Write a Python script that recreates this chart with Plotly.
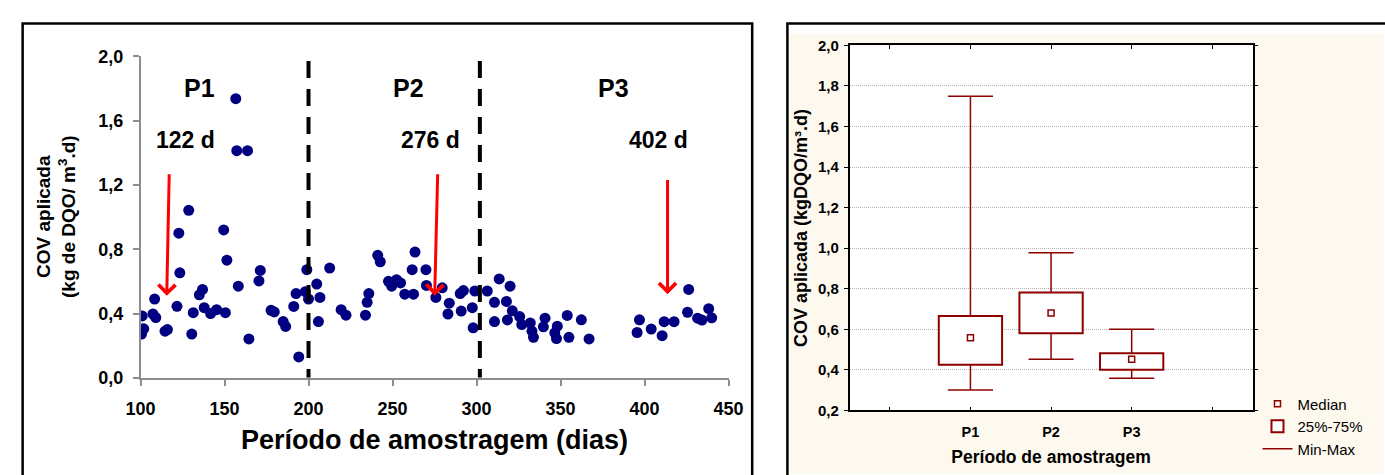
import plotly.graph_objects as go

# ---------------- Left panel data (COV aplicada vs dias) ----------------
days = [101.0, 101.9, 100.6, 108.4, 107.4, 109.1, 114.6, 116.0, 121.7, 123.4,
        122.8, 128.7, 130.5, 131.4, 135.0, 136.9, 137.9, 141.7, 145.3, 149.5,
        150.5, 151.4, 156.7, 157.3, 158.2, 163.7, 164.5, 170.5, 171.3, 177.7,
        179.6, 184.9, 186.4, 191.2, 192.6, 194.2, 198.1, 199.0, 200.0,
        204.9, 205.9, 206.8, 212.6, 219.4, 222.3, 233.9, 234.9, 235.9, 241.2,
        242.7, 247.6, 249.5, 252.4, 254.8, 257.3, 261.7, 262.5, 263.4, 269.9,
        270.2, 275.8, 279.6, 283.0, 283.8, 290.3, 290.9, 292.2, 297.5, 298.0,
        299.0,
        306.4, 310.7, 310.7, 313.5, 317.8, 318.4, 320.0, 321.3, 325.7, 326.9,
        332.0, 333.0, 333.9, 339.8, 340.8, 346.6, 347.6, 348.1, 354.0, 355.0,
        362.4, 367.0, 395.6, 397.0, 404.0, 410.5, 411.7, 417.6, 425.6, 426.3,
        431.6, 434.2, 438.2, 440.0]
cov = [0.385, 0.305, 0.272, 0.49, 0.397, 0.375, 0.29, 0.30, 0.445, 0.653,
       0.90, 1.042, 0.272, 0.405, 0.516, 0.55, 0.436, 0.40, 0.424, 0.92,
       0.405, 0.732, 1.736, 1.413, 0.57, 1.413, 0.242, 0.603, 0.668, 0.42,
       0.41, 0.35, 0.32, 0.444, 0.524, 0.13, 0.536, 0.673, 0.49,
       0.583, 0.35, 0.50, 0.683, 0.424, 0.39, 0.39, 0.47, 0.524, 0.762,
       0.722, 0.60, 0.57, 0.61, 0.59, 0.52, 0.673, 0.52, 0.782, 0.673,
       0.575, 0.50, 0.56, 0.397, 0.464, 0.524, 0.415, 0.543, 0.436, 0.311,
       0.54,
       0.54, 0.47, 0.35, 0.615, 0.475, 0.36, 0.57, 0.417, 0.381, 0.331,
       0.341, 0.29, 0.252, 0.317, 0.371, 0.28, 0.244, 0.321, 0.388, 0.252,
       0.361, 0.242, 0.282, 0.361, 0.303, 0.262, 0.349, 0.349, 0.408, 0.55,
       0.371, 0.359, 0.43, 0.373]

x_ticks_left = [100, 150, 200, 250, 300, 350, 400, 450]
y_ticks_left = [0.0, 0.4, 0.8, 1.2, 1.6, 2.0]

period_bounds = [200, 302]
period_line_top = 1.97
period_names = ["P1", "P2", "P3"]
period_label_x = [134.9, 259.4, 381.7]
period_label_y = 1.80

arrow_labels = ["122 d", "276 d", "402 d"]
arrow_label_x = [126.6, 272.8, 408.5]
arrow_label_y = 1.48
arrow_tail_x = [117.1, 276.9, 413.7]
arrow_tail_y = [1.275, 1.275, 1.24]
arrow_tip_x = [115.6, 275.1, 413.7]
arrow_tip_y = [0.51, 0.51, 0.52]

# ---------------- Right panel data (box plot) ----------------
box_labels = ["P1", "P2", "P3"]
box_pos = [2, 3, 4]
cat_minor_ticks = [1, 2, 3, 4, 5]
cov_min = [0.30, 0.452, 0.359]
cov_q1 = [0.425, 0.58, 0.40]
cov_median = [0.558, 0.68, 0.452]
cov_q3 = [0.666, 0.782, 0.482]
cov_max = [1.75, 0.978, 0.60]

# ---------------- styling ----------------
W, H = 1385, 475
FONT = "Liberation Sans, Arial, sans-serif"
NAVY = "#000080"
MAROON = "#8E0000"
GREY_AX = "#8C8C8C"
CREAM = "#FEF9EE"
BOX_WIDTH = 0.785
CAP_HALF = 0.28


def px_x(p):
    return p / W


def px_y(p):
    return 1 - p / H


fig = go.Figure()

fig.add_trace(go.Scatter(
    x=days, y=cov, mode="markers", showlegend=False,
    marker=dict(color=NAVY, size=11, line=dict(width=0)),
    xaxis="x", yaxis="y", name="COV"))

fig.add_trace(go.Bar(
    x=box_pos, y=[q3 - q1 for q1, q3 in zip(cov_q1, cov_q3)], base=cov_q1,
    width=BOX_WIDTH, name="25%-75%", legendrank=2,
    marker=dict(color="white", line=dict(color=MAROON, width=2)),
    xaxis="x2", yaxis="y2"))

wx, wy = [], []
for p, lo, q1, q3, hi in zip(box_pos, cov_min, cov_q1, cov_q3, cov_max):
    wx += [p, p, None, p, p, None, p - CAP_HALF, p + CAP_HALF, None, p - CAP_HALF, p + CAP_HALF, None]
    wy += [lo, q1, None, q3, hi, None, lo, lo, None, hi, hi, None]
fig.add_trace(go.Scatter(
    x=wx, y=wy, mode="lines", name="Min-Max", legendrank=3,
    line=dict(color=MAROON, width=1.5),
    xaxis="x2", yaxis="y2"))

fig.add_trace(go.Scatter(
    x=box_pos, y=cov_median, mode="markers", name="Median", legendrank=1,
    marker=dict(symbol="square-open", size=6, color=MAROON, line=dict(width=1.5)),
    xaxis="x2", yaxis="y2"))

shapes = []
shapes.append(dict(type="rect", xref="paper", yref="paper",
                   x0=px_x(791), x1=1.01, y0=-0.02, y1=px_y(25),
                   fillcolor=CREAM, line=dict(width=0), layer="below"))
shapes.append(dict(type="rect", xref="x2", yref="y2",
                   x0=0.5, x1=5.5, y0=0.2, y1=2.0,
                   fillcolor="white", line=dict(width=0), layer="below"))
shapes.append(dict(type="rect", xref="paper", yref="paper",
                   x0=px_x(7.8), x1=px_x(753.5), y0=-0.05, y1=px_y(14),
                   line=dict(color="black", width=2.5), fillcolor="rgba(0,0,0,0)"))
shapes.append(dict(type="rect", xref="paper", yref="paper",
                   x0=px_x(789.5), x1=1.05, y0=-0.05, y1=px_y(14),
                   line=dict(color="black", width=2.5), fillcolor="rgba(0,0,0,0)"))
for b in period_bounds:
    shapes.append(dict(type="line", xref="x", yref="y", x0=b, x1=b,
                       y0=period_line_top, y1=0,
                       line=dict(color="black", width=4, dash="17px,11px"),
                       layer="above"))

annotations = []
for name, xv in zip(period_names, period_label_x):
    annotations.append(dict(x=xv, y=period_label_y, xref="x", yref="y", text=name,
                            showarrow=False,
                            font=dict(family=FONT, size=25, color="black", weight="bold")))
for lab, xv in zip(arrow_labels, arrow_label_x):
    annotations.append(dict(x=xv, y=arrow_label_y, xref="x", yref="y", text=lab,
                            showarrow=False,
                            font=dict(family=FONT, size=23, color="black", weight="bold")))
for tx, ty, hx, hy in zip(arrow_tail_x, arrow_tail_y, arrow_tip_x, arrow_tip_y):
    annotations.append(dict(x=hx, y=hy, ax=tx, ay=ty, xref="x", yref="y",
                            axref="x", ayref="y", text="", showarrow=True,
                            arrowhead=4, arrowsize=1.1, arrowwidth=3,
                            arrowcolor="#FF0000"))
annotations.append(dict(x=px_x(42), y=px_y(216), xref="paper", yref="paper",
                        xanchor="center", yanchor="middle",
                        text="COV aplicada<br>(kg de DQO/ m<sup>3</sup>.d)",
                        textangle=-90, showarrow=False,
                        font=dict(family=FONT, size=19, color="black", weight="bold")))

fig.update_layout(
    width=W, height=H,
    margin=dict(l=0, r=0, t=0, b=0),
    paper_bgcolor="white", plot_bgcolor="white",
    separators=",.",
    font=dict(family=FONT, color="black"),
    shapes=shapes, annotations=annotations,
    showlegend=True,
    legend=dict(x=px_x(1270), y=px_y(394), xanchor="left", yanchor="top",
                bgcolor="rgba(0,0,0,0)", borderwidth=0,
                font=dict(family=FONT, size=15, color="black"),
                tracegroupgap=0, itemwidth=30),
    xaxis=dict(domain=[px_x(128.3), px_x(729.3)], range=[100, 450],
               tickvals=x_ticks_left, ticks="outside", ticklen=6,
               tickcolor=GREY_AX, tickwidth=1.5, ticklabelstandoff=8,
               showline=True, linecolor=GREY_AX, linewidth=1.5,
               showgrid=False, zeroline=False, anchor="y",
               tickfont=dict(family=FONT, size=18, color="black", weight="bold"),
               title=dict(text="Período de amostragem (dias)", standoff=12,
                          font=dict(family=FONT, size=27, color="black", weight="bold"))),
    yaxis=dict(domain=[1 - 384 / H, 1 - 48.3 / H], range=[0, 2.0],
               tickvals=y_ticks_left, tickformat=".1f", ticks="outside", ticklen=6,
               tickcolor=GREY_AX, tickwidth=1.5, ticklabelstandoff=6,
               showline=True, linecolor=GREY_AX, linewidth=1.5,
               showgrid=False, zeroline=False, anchor="x",
               tickfont=dict(family=FONT, size=18, color="black", weight="bold")),
    xaxis2=dict(domain=[px_x(853), px_x(1265)], range=[0.5, 5.5],
                tickvals=box_pos, ticktext=box_labels,
                ticks="inside", ticklen=4, tickcolor="black",
                minor=dict(tickvals=cat_minor_ticks, ticks="inside", ticklen=4,
                           tickcolor="black", showgrid=False),
                showline=True, linecolor="black", linewidth=1.5, mirror="ticks",
                showgrid=False, zeroline=False, anchor="y2", ticklabelstandoff=7,
                tickfont=dict(family=FONT, size=14.5, color="black", weight="bold"),
                title=dict(text="Período de amostragem", standoff=12,
                           font=dict(family=FONT, size=17.5, color="black", weight="bold"))),
    yaxis2=dict(domain=[1 - 418 / H, 1 - 37 / H], range=[0.2, 2.0],
                tick0=0.2, dtick=0.2, tickformat=".1f",
                ticks="outside", ticklen=4, tickcolor="black",
                showline=True, linecolor="black", linewidth=1.5, mirror="ticks",
                showgrid=True, gridcolor="#B4B4B4", gridwidth=1, griddash="1px,1px",
                zeroline=False, anchor="x2", ticklabelstandoff=2,
                tickfont=dict(family=FONT, size=15, color="black", weight="bold"),
                title=dict(text="COV aplicada (kgDQO/m³.d)", standoff=6,
                           font=dict(family=FONT, size=18, color="black", weight="bold"))),
)

fig.write_html("out.html")
